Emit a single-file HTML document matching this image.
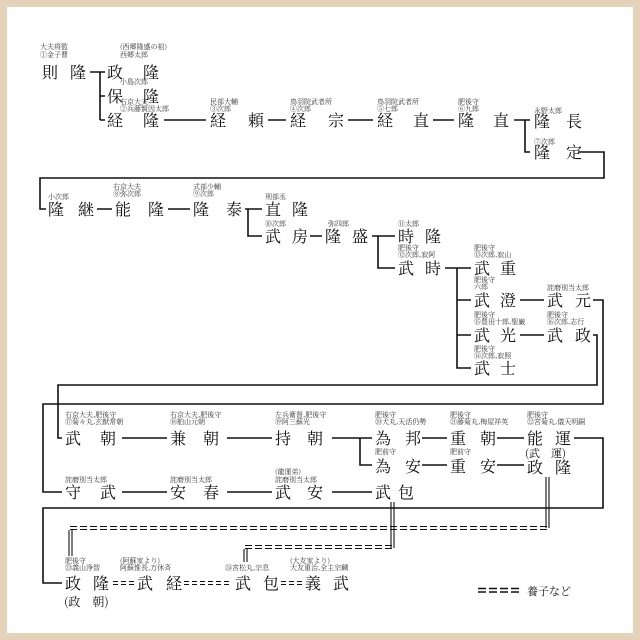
<!DOCTYPE html>
<html><head><meta charset="utf-8"><style>
html,body{margin:0;padding:0;background:#fff}
svg{display:block}
.n{font-family:"Noto Serif CJK SC","Noto Sans CJK SC",serif;font-size:16px;fill:#111}
.l{font-family:"Noto Serif CJK SC","Noto Sans CJK SC",serif;font-size:7px;fill:#333}
.s{font-family:"Noto Serif CJK SC",serif;font-size:12px;fill:#111}
</style></head><body>
<svg width="640" height="640" viewBox="0 0 640 640" xmlns="http://www.w3.org/2000/svg">
<rect x="0" y="0" width="640" height="640" fill="#e3d4b9"/>
<rect x="7" y="7" width="626" height="626" fill="#fff"/>
<g stroke="#111" stroke-width="1.6" fill="none">
<path d="M90 72 H100 M100 72 V120 M100 72 H105 M100 96 H105 M100 120 H105"/>
<path d="M164 120 H206 M268 120 H286 M348 120 H373 M433 120 H454"/>
<path d="M514 120 H530 M525 120 V152 H530 M578 152 H604 V178 H40 V209 H46"/>
<path d="M97 209 H112 M168 209 H190 M245 209 H262 M248 209 V236 H262"/>
<path d="M310 236 H322 M372 236 H395 M378 236 V268 H395"/>
<path d="M445 268 H471 M457 268 V368 H471 M457 300 H471 M457 335 H471"/>
<path d="M520 300 H544 M520 335 H544"/>
<path d="M593 300 H603 V404 H43 V492 H62"/>
<path d="M593 335 H597 V385 H58 V438 H62"/>
<path d="M122 438 H167 M227 438 H272 M332 438 H372 M360 438 V465 H372"/>
<path d="M422 438 H447 M497 438 H524 M422 465 H447 M497 465 H524"/>
<path d="M574 438 H603 V508 H43 V583 H62"/>
<path d="M122 492 H167 M227 492 H272 M332 492 H372"/>
</g>
<g stroke="#111" stroke-width="1.1" fill="none">
<path d="M546 477 V528 M549 477 V528" />
<path d="M391 502 V548 M394 502 V548" />
<g stroke-dasharray="7 3">
<path d="M70 526.5 H550 M70 529.5 H550"/>
<path d="M245 545.5 H394 M245 548.5 H394"/>
</g>
<path d="M69 530 V556 M72 530 V556"/>
<path d="M244 549 V562 M247 549 V562"/>
<g stroke-dasharray="5 3">
<path d="M113 581.5 H134 M113 584.5 H134"/>
<path d="M184 581.5 H232 M184 584.5 H232"/>
<path d="M281 581.5 H302 M281 584.5 H302"/>
</g>
<g stroke-dasharray="8 3" stroke-width="1.4">
<path d="M478 588.5 H522 M478 592 H522"/>
</g>
</g>
<g class="n">
<text x="42" y="78">則</text><text x="70" y="78">隆</text>
<text x="107" y="78">政</text><text x="143" y="78">隆</text>
<text x="107" y="102">保</text><text x="143" y="102">隆</text>
<text x="107" y="126">経</text><text x="143" y="126">隆</text>
<text x="210" y="126">経</text><text x="248" y="126">頼</text>
<text x="290" y="126">経</text><text x="328" y="126">宗</text>
<text x="377" y="126">経</text><text x="413" y="126">直</text>
<text x="458" y="126">隆</text><text x="493" y="126">直</text>
<text x="534" y="127">隆</text><text x="566" y="127">長</text>
<text x="534" y="158">隆</text><text x="566" y="158">定</text>
<text x="48" y="215">隆</text><text x="78" y="215">継</text>
<text x="115" y="215">能</text><text x="148" y="215">隆</text>
<text x="193" y="215">隆</text><text x="226" y="215">泰</text>
<text x="265" y="215">直</text><text x="292" y="215">隆</text>
<text x="265" y="242">武</text><text x="292" y="242">房</text>
<text x="325" y="242">隆</text><text x="352" y="242">盛</text>
<text x="398" y="242">時</text><text x="425" y="242">隆</text>
<text x="398" y="274">武</text><text x="425" y="274">時</text>
<text x="474" y="274">武</text><text x="500" y="274">重</text>
<text x="474" y="306">武</text><text x="500" y="306">澄</text>
<text x="547" y="306">武</text><text x="575" y="306">元</text>
<text x="474" y="341">武</text><text x="500" y="341">光</text>
<text x="547" y="341">武</text><text x="575" y="341">政</text>
<text x="474" y="374">武</text><text x="500" y="374">士</text>
<text x="65" y="444">武</text><text x="100" y="444">朝</text>
<text x="170" y="444">兼</text><text x="203" y="444">朝</text>
<text x="275" y="444">持</text><text x="307" y="444">朝</text>
<text x="375" y="444">為</text><text x="405" y="444">邦</text>
<text x="450" y="444">重</text><text x="480" y="444">朝</text>
<text x="527" y="444">能</text><text x="555" y="444">運</text>
<text x="375" y="472">為</text><text x="405" y="472">安</text>
<text x="450" y="472">重</text><text x="480" y="472">安</text>
<text x="527" y="473">政</text><text x="555" y="473">隆</text>
<text x="65" y="498">守</text><text x="100" y="498">武</text>
<text x="170" y="498">安</text><text x="203" y="498">春</text>
<text x="275" y="498">武</text><text x="307" y="498">安</text>
<text x="375" y="498">武</text><text x="398" y="498">包</text>
<text x="65" y="589">政</text><text x="93" y="589">隆</text>
<text x="137" y="589">武</text><text x="166" y="589">経</text>
<text x="235" y="589">武</text><text x="263" y="589">包</text>
<text x="305" y="589">義</text><text x="333" y="589">武</text>
</g>
<g class="s">
<text x="525" y="457" style="font-size:11px">(武　運)</text>
<text x="64" y="606">(政　朝)</text>
<text x="527" y="595" style="font-size:11px">養子など</text>
</g>
<g class="l">
<text x="40" y="49">大夫将監</text><text x="40" y="57">①金子曹</text>
<text x="120" y="49">(西郷隆盛の祖)</text><text x="120" y="57">西郷太郎</text>
<text x="120" y="84">小島次郎</text>
<text x="120" y="104">右京大夫</text><text x="120" y="111">②兵藤賢因太郎</text>
<text x="210" y="104">民部大輔</text><text x="210" y="111">③次郎</text>
<text x="290" y="104">鳥羽院武者所</text><text x="290" y="111">④次郎</text>
<text x="377" y="104">鳥羽院武者所</text><text x="377" y="111">⑤七郎</text>
<text x="458" y="104">肥後守</text><text x="458" y="111">⑥九郎</text>
<text x="534" y="113">永野太郎</text>
<text x="534" y="144">⑦次郎</text>
<text x="48" y="199">小次郎</text>
<text x="113" y="189">右京大夫</text><text x="113" y="196">⑧弥次郎</text>
<text x="193" y="189">式部少輔</text><text x="193" y="196">⑨次郎</text>
<text x="265" y="199">刑部丞</text>
<text x="265" y="226">⑩次郎</text>
<text x="328" y="226">弥四郎</text>
<text x="398" y="226">⑪太郎</text>
<text x="398" y="250">肥後守</text><text x="398" y="257">⑫次郎,寂阿</text>
<text x="474" y="250">肥後守</text><text x="474" y="257">⑬次郎,寂山</text>
<text x="474" y="282">肥後守</text><text x="474" y="289">六郎</text>
<text x="547" y="290">詫磨別当太郎</text>
<text x="474" y="317">肥後守</text><text x="474" y="324">⑮豊田十郎,聖巌</text>
<text x="547" y="317">肥後守</text><text x="547" y="324">⑯次郎,志行</text>
<text x="474" y="351">肥後守</text><text x="474" y="358">⑭次郎,寂照</text>
<text x="65" y="417">右京大夫,肥後守</text><text x="65" y="424">⑰菊々丸,玄猷常朝</text>
<text x="170" y="417">右京大夫,肥後守</text><text x="170" y="424">⑱舶山元朝</text>
<text x="275" y="417">左兵衛督,肥後守</text><text x="275" y="424">⑲阿三蘇光</text>
<text x="375" y="417">肥後守</text><text x="375" y="424">⑳犬丸,天活仍勢</text>
<text x="450" y="417">肥後守</text><text x="450" y="424">㉑藤菊丸,梅屋祥英</text>
<text x="527" y="417">肥後守</text><text x="527" y="424">㉒宮菊丸,儀天明嗣</text>
<text x="375" y="454">肥前守</text>
<text x="450" y="454">肥前守</text>
<text x="65" y="482">詫磨別当太郎</text>
<text x="170" y="482">詫磨別当太郎</text>
<text x="275" y="474">(龍運弟)</text><text x="275" y="482">詫磨別当太郎</text>
<text x="65" y="563">肥後守</text><text x="65" y="570">㉓義山浄智</text>
<text x="120" y="563">(阿蘇家より)</text><text x="120" y="570">阿蘇惟長,万休斉</text>
<text x="225" y="570">㉔宮松丸,宗息</text>
<text x="290" y="563">(大友家より)</text><text x="290" y="570">大友重治,全主宗麟</text>
</g>
</svg>
</body></html>
